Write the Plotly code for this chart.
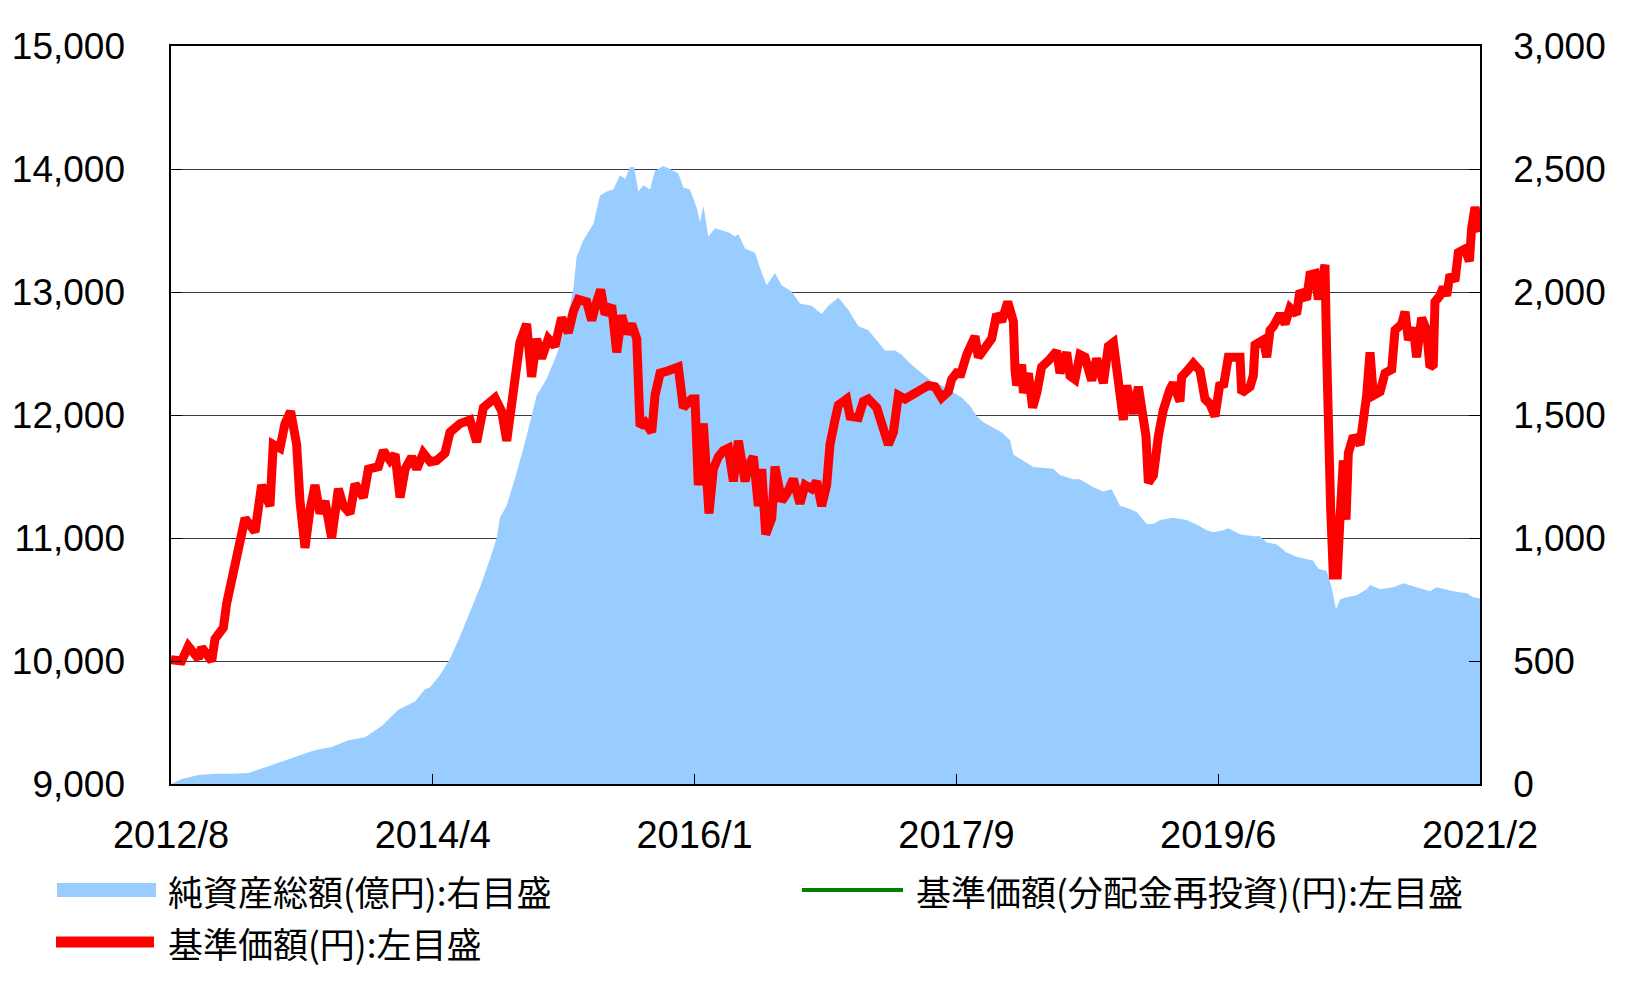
import plotly.graph_objects as go

# ---------------- data ----------------
# x positions: months since 2012/8 on the chart's evenly spaced axis (0 .. 102 = 2021/2)
tick_labels = ["2012/8", "2014/4", "2016/1", "2017/9", "2019/6", "2021/2"]
tick_months = [0, 20.4, 40.8, 61.2, 81.6, 102]

nav_months = [
    0.0, 0.83, 1.35, 2.13, 2.39, 3.17, 3.43, 4.08, 4.34, 4.73, 5.12, 5.77, 6.55, 7.06, 7.71, 7.97,
    8.49, 8.88, 9.32, 9.79, 10.05, 10.44, 10.83, 11.22, 11.61, 12.0, 12.52, 13.04, 13.43, 13.95,
    14.34, 14.99, 15.38, 16.16, 16.55, 17.07, 17.46, 17.85, 18.24, 18.76, 19.15, 19.66, 20.2,
    20.70, 21.35, 21.74, 22.52, 23.30, 23.82, 24.34, 25.25, 25.77, 26.16, 26.55, 26.81, 27.19,
    27.71, 28.10, 28.49, 28.88, 29.40, 29.92, 30.44, 30.96, 31.35, 31.74, 32.39, 32.78, 33.17,
    33.48, 33.82, 34.34, 34.73, 35.12, 35.51, 35.90, 36.29, 36.55, 36.94, 37.46, 37.72, 38.11,
    38.76, 39.53, 39.92, 40.57, 40.83, 41.09, 41.48, 41.92, 42.26, 42.65, 43.04, 43.43, 43.82,
    44.21, 44.73, 44.99, 45.38, 45.77, 46.03, 46.34, 46.81, 47.07, 47.58, 47.98, 48.49, 49.01,
    49.41, 49.92, 50.31, 50.70, 51.09, 51.35, 51.74, 52.00, 52.65, 52.91, 53.56, 53.95, 54.34,
    54.99, 55.38, 55.90, 56.29, 56.68, 57.20, 57.72, 58.24, 59.01, 59.53, 60.05, 60.57, 60.83,
    61.35, 61.48, 62.00, 62.65, 62.91, 63.43, 63.95, 64.34, 64.73, 65.20, 65.64, 65.77, 65.90,
    66.29, 66.42, 66.81, 67.14, 67.46, 67.84, 68.36, 69.01, 69.27, 69.79, 70.05, 70.44, 70.83,
    71.22, 71.74, 72.13, 72.65, 73.04, 73.43, 73.82, 74.21, 74.47, 74.99, 75.38, 75.64, 75.97,
    76.16, 76.55, 76.94, 77.32, 77.84, 78.10, 78.62, 78.75, 79.27, 79.66, 80.18, 80.57, 80.96,
    81.35, 81.74, 82.00, 82.39, 82.91, 83.30, 83.43, 84.08, 84.34, 84.47, 85.12, 85.38, 85.64,
    85.90, 86.42, 86.81, 87.20, 87.71, 87.97, 88.49, 88.75, 89.14, 89.40, 89.66, 89.92, 90.05,
    90.18, 90.36, 90.57, 90.88, 91.09, 91.35, 91.56, 91.74, 92.13, 92.65, 92.91, 93.17, 93.43,
    93.69, 94.21, 94.60, 95.12, 95.38, 95.90, 96.16, 96.42, 96.81, 97.06, 97.45, 97.84, 98.10,
    98.36, 98.49, 98.88, 99.14, 99.40, 99.66, 100.05, 100.31, 100.83, 101.17, 101.35, 101.61,
    101.87, 102.0,
]
nav_yen = [
    10010, 10000, 10120, 10020, 10110, 10000, 10180, 10270, 10470, 10670, 10830, 11160, 11050, 11430, 11260, 11760,
    11730, 11930, 12030, 11760, 11300, 10920, 11230, 11430, 11200, 11300, 11000, 11400, 11260, 11200,
    11440, 11330, 11560, 11580, 11710, 11630, 11680, 11330, 11560, 11660, 11560, 11690, 11620,
    11630, 11690, 11860, 11930, 11960, 11780, 12060, 12140, 12030, 11790, 12060, 12360, 12590,
    12740, 12310, 12620, 12460, 12620, 12560, 12790, 12670, 12840, 12940, 12920, 12770, 12920,
    13020, 12820, 12890, 12510, 12810, 12660, 12740, 12620, 11910, 11940, 11860, 12160, 12340,
    12360, 12390, 12060, 12130, 12130, 11430, 11930, 11200, 11560, 11660, 11710, 11730, 11460,
    11790, 11460, 11590, 11660, 11260, 11560, 11030, 11160, 11580, 11300, 11360, 11480, 11280,
    11430, 11400, 11460, 11260, 11430, 11760, 11960, 12080, 12130, 11990, 11980, 12110, 12130,
    12060, 11930, 11760, 11860, 12160, 12130, 12160, 12190, 12240, 12230, 12140, 12190, 12290,
    12360, 12310, 12490, 12640, 12470, 12560, 12620, 12820, 12760, 12920, 12760, 12360, 12240,
    12410, 12180, 12340, 12060, 12180, 12390, 12440, 12520, 12340, 12510, 12320, 12290, 12490,
    12470, 12280, 12460, 12260, 12560, 12590, 12290, 11960, 12240, 12010, 12230, 11990, 11830,
    11450, 11510, 11830, 12040, 12210, 12260, 12110, 12310, 12370, 12420, 12360, 12130, 12090,
    11990, 12260, 12230, 12470, 12460, 12470, 12180, 12230, 12320, 12570, 12610, 12470, 12690,
    12720, 12820, 12740, 12870, 12820, 13010, 12940, 13140, 13150, 12940, 13150, 13220, 12520,
    11830, 11250, 10700, 10700, 11160, 11630, 11150, 11690, 11830, 11760, 11960, 12160, 12510,
    12160, 12190, 12340, 12370, 12690, 12740, 12840, 12610, 12710, 12470, 12790, 12690, 12390,
    12410, 12920, 12970, 13040, 12970, 13140, 13090, 13320, 13350, 13250, 13520, 13690,
    13540, 13490,
]
# no distributions paid: the reinvested NAV coincides with the NAV
nav_reinvested_yen = list(nav_yen)

aum_months = [
    0.0, 0.83, 2.13, 3.43, 4.73, 6.03, 7.32, 8.62, 9.92, 11.22, 12.52, 13.82, 15.12, 16.42, 17.71,
    19.01, 19.79, 20.18, 20.96, 21.74, 22.52, 23.30, 24.08, 24.86, 25.38, 25.63, 26.15, 26.93,
    27.71, 28.49, 29.27, 30.05, 30.83, 31.35, 31.61, 32.13, 32.91, 33.43, 33.95, 34.47, 34.99,
    35.38, 35.77, 36.08, 36.42, 36.80, 37.32, 37.71, 38.36, 38.88, 39.53, 39.92, 40.44, 40.96,
    41.22, 41.48, 41.87, 42.39, 43.43, 43.95, 44.21, 44.73, 45.51, 46.03, 46.42, 47.06, 47.58,
    48.36, 49.01, 49.92, 50.70, 51.22, 52.00, 52.78, 53.56, 54.34, 55.12, 55.64, 56.42, 56.93,
    57.71, 58.49, 59.27, 60.05, 60.83, 61.61, 62.26, 62.78, 63.30, 64.08, 64.73, 65.38, 65.64,
    66.67, 67.19, 68.75, 69.27, 70.31, 70.83, 71.87, 72.65, 73.30, 73.95, 74.47, 75.25, 76.03,
    76.55, 77.06, 78.10, 79.14, 80.18, 80.70, 81.22, 82.00, 82.39, 83.30, 84.34, 84.86, 85.38,
    86.16, 86.93, 87.71, 88.49, 89.01, 89.40, 90.05, 90.44, 90.78, 91.09, 91.61, 92.39, 93.17,
    93.43, 94.21, 95.25, 96.03, 97.06, 98.10, 98.62, 99.92, 100.96, 101.48, 102.0,
]
aum_oku_yen = [
    0, 20, 37, 42, 42, 45, 67, 92, 115, 137, 150, 178, 190, 236, 302,
    335, 385, 393, 443, 509, 600, 700, 800, 916, 999, 1082, 1131, 1264,
    1414, 1579, 1646, 1745, 1878, 2011, 2143, 2210, 2276, 2392, 2409, 2417, 2475,
    2459, 2508, 2508, 2409, 2434, 2417, 2492, 2512, 2500, 2483, 2425, 2417, 2342,
    2284, 2351, 2226, 2259, 2243, 2226, 2235, 2177, 2160, 2077, 2027, 2077, 2027,
    2002, 1953, 1944, 1911, 1944, 1977, 1928, 1861, 1845, 1795, 1762, 1762, 1745,
    1704, 1671, 1637, 1621, 1596, 1571, 1538, 1496, 1471, 1447, 1430, 1397, 1339,
    1306, 1289, 1281, 1256, 1239, 1239, 1206, 1189, 1198, 1131, 1123, 1106, 1057,
    1057, 1073, 1082, 1073, 1048, 1032, 1023, 1032, 1040, 1015, 1007, 1007, 982,
    974, 941, 924, 916, 908, 875, 866, 800, 709, 750, 759, 767, 792,
    809, 792, 800, 816, 800, 784, 800, 784, 775, 759, 754,
]

legend_aum = "純資産総額(億円):右目盛"
legend_reinv = "基準価額(分配金再投資)(円):左目盛"
legend_nav = "基準価額(円):左目盛"

# ---------------- figure ----------------
W, H = 1628, 982
L, R, T, B = 171, 1480, 46, 784  # plot area in pixels

NUM_FONT = "Liberation Sans, Arial, sans-serif"
JP_FONT = "Noto Sans CJK JP, sans-serif"

fig = go.Figure()

fig.add_trace(go.Scatter(
    x=aum_months, y=aum_oku_yen, yaxis="y", mode="lines",
    fill="tozeroy", fillcolor="#99CCFF", line=dict(width=0, color="#99CCFF"),
    name=legend_aum, showlegend=False, hoverinfo="skip"))
fig.add_trace(go.Scatter(
    x=nav_months, y=nav_reinvested_yen, yaxis="y2", mode="lines",
    line=dict(width=4, color="#008000"), name=legend_reinv, showlegend=False))
fig.add_trace(go.Scatter(
    x=nav_months, y=nav_yen, yaxis="y2", mode="lines",
    line=dict(width=9, color="#FF0000"), name=legend_nav, showlegend=False))

fig.update_layout(
    width=W, height=H, autosize=False,
    margin=dict(l=L, r=W - R, t=T, b=H - B, pad=0),
    paper_bgcolor="white", plot_bgcolor="white",
    font=dict(family=NUM_FONT, color="black", size=36),
    xaxis=dict(
        range=[0, 102], tickmode="array", tickvals=tick_months, ticktext=tick_labels,
        ticks="inside", ticklen=10, tickwidth=1.2, tickcolor="black",
        showline=True, linecolor="black", linewidth=1.5, mirror=True,
        showgrid=False, zeroline=False, ticklabelstandoff=17,
        tickfont=dict(family=NUM_FONT, size=38, color="black"),
    ),
    yaxis=dict(
        side="right", range=[0, 3000], tickmode="array",
        tickvals=[0, 500, 1000, 1500, 2000, 2500, 3000], tickformat=",",
        ticks="inside", ticklen=11, tickwidth=1.2, tickcolor="black",
        showline=True, linecolor="black", linewidth=1.5, mirror=True,
        showgrid=True, gridcolor="#3a3a3a", gridwidth=1, zeroline=False,
        ticklabelstandoff=24,
        tickfont=dict(family=NUM_FONT, size=37, color="black"),
    ),
    yaxis2=dict(
        side="left", overlaying="y", range=[9000, 15000], tickmode="array",
        tickvals=[9000, 10000, 11000, 12000, 13000, 14000, 15000], tickformat=",",
        ticks="inside", ticklen=11, tickwidth=1.2, tickcolor="black",
        showline=False, showgrid=False, zeroline=False,
        ticklabelstandoff=45,
        tickfont=dict(family=NUM_FONT, size=37, color="black"),
    ),
)

# ---------------- custom legend ----------------
def px_x(p):
    return (p - L) / (R - L)

def px_y(p):
    return (B - p) / (B - T)

fig.add_shape(type="rect", xref="paper", yref="paper",
              x0=px_x(57), x1=px_x(156), y0=px_y(897), y1=px_y(883),
              fillcolor="#99CCFF", line=dict(width=0))
fig.add_shape(type="line", xref="paper", yref="paper",
              x0=px_x(802), x1=px_x(903), y0=px_y(890), y1=px_y(890),
              line=dict(color="#008000", width=4))
fig.add_shape(type="line", xref="paper", yref="paper",
              x0=px_x(56), x1=px_x(154), y0=px_y(942), y1=px_y(942),
              line=dict(color="#FF0000", width=11))

for text, xp, yp in [(legend_aum, 166, 890), (legend_reinv, 914, 890), (legend_nav, 166, 942)]:
    fig.add_annotation(text=text, xref="paper", yref="paper", x=px_x(xp), y=px_y(yp),
                       xanchor="left", yanchor="middle", showarrow=False,
                       font=dict(family=JP_FONT, size=35, color="black"))

fig.write_html("out.html")
